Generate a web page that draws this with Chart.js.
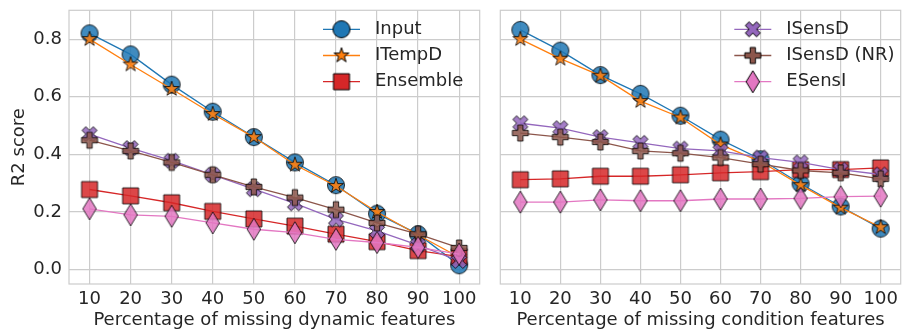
<!DOCTYPE html>
<html lang="en">
<head>
<meta charset="UTF-8">
<title>R2 score vs missing features</title>
<script src="https://cdn.jsdelivr.net/npm/chart.js"></script>
<style>
    body { margin: 0; background: #fff; }
    #wrap { position: relative; width: 909px; height: 335px; overflow: hidden; }
    canvas { position: absolute; top: 0; }
</style>
</head>
<body>
<div id="wrap">
    <canvas id="dynChart" width="490" height="335" style="left:0"></canvas>
    <canvas id="condChart" width="421" height="335" style="left:490px"></canvas>
</div>
<script>
// x categories (percentage of missing features)
const percents = [10, 20, 30, 40, 50, 60, 70, 80, 90, 100];
const yTicks = [0.0, 0.2, 0.4, 0.6, 0.8];
const seriesNames = ['Input', 'ITempD', 'Ensemble', 'ISensD', 'ISensD (NR)', 'ESensI'];

// left panel: missing dynamic features
const dynInput    = [0.820, 0.747, 0.642, 0.548, 0.460, 0.372, 0.293, 0.194, 0.123, 0.015];
const dynITempD   = [0.800, 0.712, 0.627, 0.540, 0.460, 0.364, 0.290, 0.200, 0.120, 0.043];
const dynEnsemble = [0.278, 0.256, 0.232, 0.202, 0.176, 0.151, 0.123, 0.097, 0.066, 0.045];
const dynISensD   = [0.470, 0.422, 0.378, 0.329, 0.279, 0.230, 0.174, 0.134, 0.085, 0.030];
const dynISensDNR = [0.449, 0.412, 0.372, 0.329, 0.287, 0.250, 0.208, 0.162, 0.123, 0.075];
const dynESensI   = [0.211, 0.190, 0.185, 0.162, 0.140, 0.128, 0.105, 0.094, 0.077, 0.054];

// right panel: missing condition features
const condInput    = [0.832, 0.760, 0.675, 0.610, 0.534, 0.451, 0.383, 0.298, 0.219, 0.142];
const condITempD   = [0.800, 0.732, 0.673, 0.585, 0.528, 0.434, 0.375, 0.293, 0.215, 0.147];
const condEnsemble = [0.312, 0.315, 0.324, 0.324, 0.329, 0.336, 0.340, 0.347, 0.347, 0.353];
const condISensD   = [0.508, 0.491, 0.460, 0.440, 0.420, 0.412, 0.389, 0.372, 0.347, 0.330];
const condISensDNR = [0.474, 0.460, 0.443, 0.412, 0.404, 0.389, 0.366, 0.344, 0.336, 0.315];
const condESensI   = [0.234, 0.234, 0.242, 0.239, 0.239, 0.245, 0.245, 0.247, 0.253, 0.255];

const colors = ['#1f77b4', '#ff7f0e', '#d62728', '#9467bd', '#8c564b', '#e377c2'];
const shapes = ['circle', 'star', 'square', 'x', 'plus', 'diamond'];
const textColor = '#262626';
const gridColor = '#cccccc';
const fontFamily = '"DejaVu Sans", sans-serif';
const fontSize = 18;

// matplotlib-like filled markers drawn once on small canvases
function makeMarker(shape, color, alpha) {
    const s = 28;
    const c = document.createElement('canvas');
    c.width = s; c.height = s;
    const g = c.getContext('2d');
    g.translate(s / 2, s / 2);
    g.beginPath();
    const poly = (pts, k) => {
        pts.forEach((p, i) => i ? g.lineTo(p[0] * k, p[1] * k) : g.moveTo(p[0] * k, p[1] * k));
    };
    if (shape === 'circle') {
        g.arc(0, 0, 8.5, 0, Math.PI * 2);
    } else if (shape === 'star') {
        const pts = [];
        for (let i = 0; i < 10; i++) {
            const r = i % 2 ? 3.0 : 7.8;
            const a = -Math.PI / 2 + i * Math.PI / 5;
            pts.push([r * Math.cos(a), r * Math.sin(a)]);
        }
        poly(pts, 1);
    } else if (shape === 'square') {
        g.rect(-8, -8, 16, 16);
    } else if (shape === 'diamond') {
        poly([[0, -11], [6.7, 0], [0, 11], [-6.7, 0]], 1);
    } else if (shape === 'plus') {
        poly([[-1, -3], [1, -3], [1, -1], [3, -1], [3, 1], [1, 1], [1, 3], [-1, 3], [-1, 1], [-3, 1], [-3, -1], [-1, -1]], 16 / 6);
    } else if (shape === 'x') {
        poly([[-1, -2], [0, -1], [1, -2], [2, -1], [1, 0], [2, 1], [1, 2], [0, 1], [-1, 2], [-2, 1], [-1, 0], [-2, -1]], 15 / 4);
    }
    g.closePath();
    g.globalAlpha = alpha;
    g.fillStyle = color;
    g.fill();
    g.globalAlpha = alpha < 1 ? 0.8 : 1;
    g.strokeStyle = '#000';
    g.lineWidth = 1;
    g.stroke();
    return c;
}
const markers = shapes.map((s, i) => makeMarker(s, colors[i], 0.85));
const legendMarkers = shapes.map((s, i) => makeMarker(s, colors[i], 1));

function buildDatasets(seriesList) {
    return seriesList.map((vals, i) => ({
        label: seriesNames[i],
        data: percents.map((p, j) => ({ x: p, y: vals[j] })),
        borderColor: colors[i],
        backgroundColor: colors[i],
        borderWidth: 1.3,
        pointStyle: markers[i],
        pointRadius: 9,
        order: seriesNames.length - i,
        clip: false
    }));
}

const framePlugin = {
    id: 'frame',
    beforeDatasetsDraw(chart) {
        const a = chart.chartArea;
        const ctx = chart.ctx;
        ctx.save();
        ctx.strokeStyle = gridColor;
        ctx.lineWidth = 1.2;
        ctx.strokeRect(a.left, a.top, a.right - a.left, a.bottom - a.top);
        ctx.restore();
    }
};

const legendPlugin = {
    id: 'panelLegend',
    afterDatasetsDraw(chart, args, opts) {
        const ctx = chart.ctx;
        ctx.save();
        opts.items.forEach((idx, row) => {
            const ds = chart.data.datasets[idx];
            const y = opts.y + row * 26.2;
            ctx.strokeStyle = ds.borderColor;
            ctx.lineWidth = 1.3;
            ctx.beginPath();
            ctx.moveTo(opts.x, y);
            ctx.lineTo(opts.x + 37, y);
            ctx.stroke();
            ctx.drawImage(legendMarkers[idx], opts.x + 18.5 - 14, y - 14);
            ctx.fillStyle = textColor;
            ctx.font = fontSize + 'px ' + fontFamily;
            ctx.textBaseline = 'middle';
            ctx.fillText(ds.label, opts.x + 52, y);
        });
        ctx.restore();
    }
};

function makeChart(canvasId, seriesList, xTitle, showY, legendOpts, padding) {
    const ctx = document.getElementById(canvasId).getContext('2d');
    return new Chart(ctx, {
        type: 'line',
        data: { datasets: buildDatasets(seriesList) },
        plugins: [framePlugin, legendPlugin],
        options: {
            responsive: false,
            animation: false,
            devicePixelRatio: 1,
            layout: { padding: padding },
            plugins: {
                legend: { display: false },
                tooltip: { enabled: false },
                panelLegend: legendOpts
            },
            scales: {
                x: {
                    type: 'linear',
                    min: 5,
                    max: 105,
                    afterBuildTicks: s => { s.ticks = percents.map(v => ({ value: v })); },
                    afterFit: s => { s.height = 51; s.paddingLeft = 0; s.paddingRight = 0; },
                    border: { display: false },
                    grid: { color: gridColor, lineWidth: 1.2, drawTicks: false },
                    ticks: {
                        color: textColor,
                        font: { family: fontFamily, size: fontSize },
                        padding: 5,
                        maxRotation: 0,
                        autoSkip: false
                    },
                    title: {
                        display: true,
                        text: xTitle,
                        color: textColor,
                        font: { family: fontFamily, size: fontSize },
                        padding: { top: 4, bottom: 4 }
                    }
                },
                y: {
                    min: -0.05,
                    max: 0.9,
                    afterBuildTicks: s => { s.ticks = yTicks.map(v => ({ value: v })); },
                    afterFit: s => { s.width = showY ? 69 : 0; s.paddingTop = 0; s.paddingBottom = 0; },
                    border: { display: false },
                    grid: { color: gridColor, lineWidth: 1.2, drawTicks: false },
                    ticks: {
                        display: showY,
                        color: textColor,
                        font: { family: fontFamily, size: fontSize },
                        padding: 7,
                        callback: v => v.toFixed(1)
                    },
                    title: {
                        display: showY,
                        text: 'R2 score',
                        color: textColor,
                        font: { family: fontFamily, size: fontSize },
                        padding: { top: 9, bottom: 9 }
                    }
                }
            }
        }
    });
}

makeChart('dynChart',
    [dynInput, dynITempD, dynEnsemble, dynISensD, dynISensDNR, dynESensI],
    'Percentage of missing dynamic features', true,
    { x: 323, y: 29.3, items: [0, 1, 2] },
    { left: 0, right: 10, top: 5, bottom: 0 });

makeChart('condChart',
    [condInput, condITempD, condEnsemble, condISensD, condISensDNR, condESensI],
    'Percentage of missing condition features', false,
    { x: 244.3, y: 29.3, items: [3, 4, 5] },
    { left: 10.2, right: 0, top: 5, bottom: 0 });
</script>
</body>
</html>
